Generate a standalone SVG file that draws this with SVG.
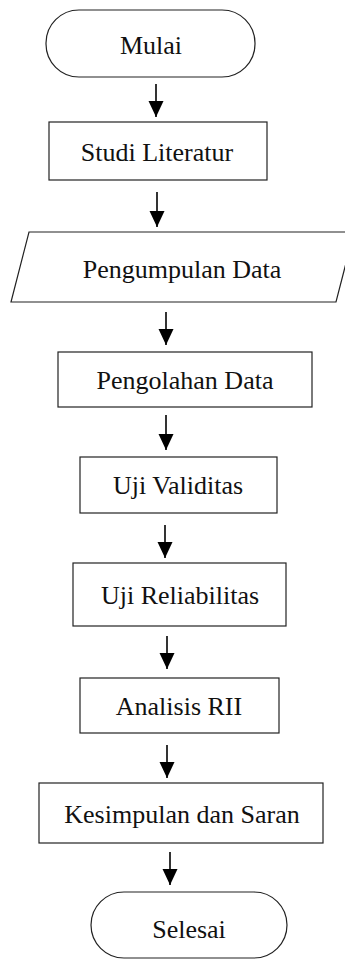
<svg xmlns="http://www.w3.org/2000/svg" width="345" height="960" viewBox="0 0 345 960">
<defs>
<style>
.s{fill:#fff;stroke:#222;stroke-width:1.2}
.t{font-family:"Liberation Serif","Times New Roman","DejaVu Serif",serif;font-size:26px;fill:#111;text-anchor:middle}
.c{stroke:#000;stroke-width:1.6;fill:none}
</style>
<marker id="ah" markerUnits="userSpaceOnUse" markerWidth="16" markerHeight="17" viewBox="0 0 16 17" refX="8" refY="16" orient="0">
<path d="M0.5,0 L15.5,0 L8,16 Z" fill="#000"/>
</marker>
</defs>
<rect width="345" height="960" fill="#fff"/>
<g id="connectors">
<line class="c" x1="156" y1="84" x2="156" y2="117" marker-end="url(#ah)"/>
<line class="c" x1="157" y1="192" x2="157" y2="227" marker-end="url(#ah)"/>
<line class="c" x1="166" y1="312" x2="166" y2="345" marker-end="url(#ah)"/>
<line class="c" x1="166" y1="415" x2="166" y2="450" marker-end="url(#ah)"/>
<line class="c" x1="165" y1="525" x2="165" y2="558" marker-end="url(#ah)"/>
<line class="c" x1="167" y1="636" x2="167" y2="669" marker-end="url(#ah)"/>
<line class="c" x1="167" y1="745" x2="167" y2="778" marker-end="url(#ah)"/>
<line class="c" x1="170" y1="852" x2="170" y2="885" marker-end="url(#ah)"/>
</g>
<g id="mulai"><rect class="s" x="46" y="10" width="209" height="67" rx="33" ry="33"/><text class="t" x="151" y="54">Mulai</text></g>
<g id="studi"><rect class="s" x="49" y="122" width="218" height="58"/><text class="t" x="157" y="161">Studi Literatur</text></g>
<g id="pengumpulan"><polygon class="s" points="29,232 354,232 336,302 11,302"/><text class="t" x="182" y="278">Pengumpulan Data</text></g>
<g id="pengolahan"><rect class="s" x="58" y="352" width="254" height="55"/><text class="t" x="185" y="389">Pengolahan Data</text></g>
<g id="validitas"><rect class="s" x="80" y="457" width="197" height="56"/><text class="t" x="178" y="494">Uji Validitas</text></g>
<g id="reliabilitas"><rect class="s" x="73" y="563" width="213" height="63"/><text class="t" x="180" y="604">Uji Reliabilitas</text></g>
<g id="analisis"><rect class="s" x="80" y="678" width="199" height="55"/><text class="t" x="179" y="715">Analisis RII</text></g>
<g id="kesimpulan"><rect class="s" x="39" y="783" width="284" height="60"/><text class="t" x="182" y="823">Kesimpulan dan Saran</text></g>
<g id="selesai"><rect class="s" x="91" y="892" width="196" height="66" rx="33" ry="33"/><text class="t" x="189" y="938">Selesai</text></g>
</svg>
